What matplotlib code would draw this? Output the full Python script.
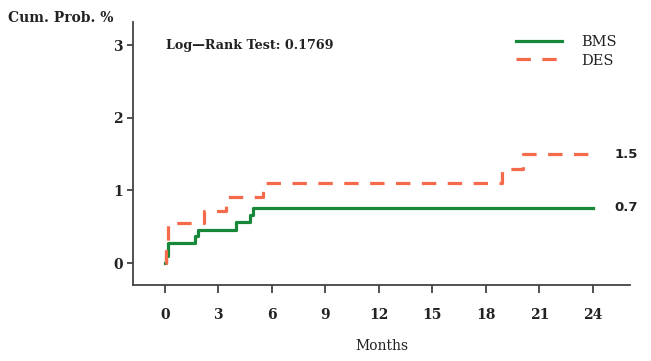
import matplotlib.pyplot as plt

# Kaplan-Meier style cumulative probability (%), step changes
bms_months = [0, 0.05, 0.15, 1.7, 1.85, 4.0, 4.8, 4.95, 24]
bms_prob = [0, 0.1, 0.28, 0.37, 0.46, 0.56, 0.66, 0.76, 0.76]

des_months = [0, 0.05, 0.2, 2.2, 3.45, 5.5, 18.9, 20.1, 24]
des_prob = [0, 0.3, 0.55, 0.72, 0.91, 1.1, 1.3, 1.5, 1.5]

x_ticks = [0, 3, 6, 9, 12, 15, 18, 21, 24]
y_ticks = [0, 1, 2, 3]
end_labels = ["1.5", "0.7"]

green = "#17873a"
orange = "#f46a4b"
font = "DejaVu Serif"

fig = plt.figure(figsize=(6.51, 3.61), dpi=100)
ax = fig.add_axes([0.204, 0.211, 0.764, 0.728])

ax.step(bms_months, bms_prob, where="post", color=green, lw=2.3, label="BMS")
ax.step(des_months, des_prob, where="post", color=orange, lw=2.3,
        linestyle=(0, (4.5, 3.6)), label="DES")

ax.set_xlim(-1.8, 26.1)
ax.set_ylim(-0.3, 3.32)
ax.set_xticks(x_ticks)
ax.set_yticks(y_ticks)
ax.spines["top"].set_visible(False)
ax.spines["right"].set_visible(False)
for s in ("left", "bottom"):
    ax.spines[s].set_color("#444444")
    ax.spines[s].set_linewidth(1.3)
ax.tick_params(axis="x", length=6, width=1.2, pad=11, colors="#333333")
ax.tick_params(axis="y", length=4, width=1.2, pad=3, colors="#333333")
for lab in ax.get_xticklabels() + ax.get_yticklabels():
    lab.set_fontfamily(font)
    lab.set_fontweight("bold")
    lab.set_fontsize(10)
    lab.set_color("#222222")

ax.set_xlabel("Months", fontfamily=font, fontsize=10, color="#222222", labelpad=12)
fig.text(0.012, 0.95, "Cum. Prob. %", fontfamily=font, fontsize=10,
         fontweight="bold", color="#222222", va="center")

ax.text(0.05, 3.0, "Log\u2014Rank Test: 0.1769", fontfamily=font, fontsize=9.2,
        fontweight="bold", color="#222222", va="center")

ax.text(25.2, des_prob[-1], end_labels[0], fontsize=9.5, fontweight="bold",
        color="#222222", va="center")
ax.text(25.2, bms_prob[-1], end_labels[1], fontsize=9.5, fontweight="bold",
        color="#222222", va="center")

leg = ax.legend(loc="upper right", bbox_to_anchor=(1.0, 1.0), frameon=False,
                handlelength=3.2, handletextpad=1.3, labelspacing=0.3,
                prop={"family": font, "size": 10.5})
for t in leg.get_texts():
    t.set_color("#222222")

fig.savefig("out.png", dpi=100)
